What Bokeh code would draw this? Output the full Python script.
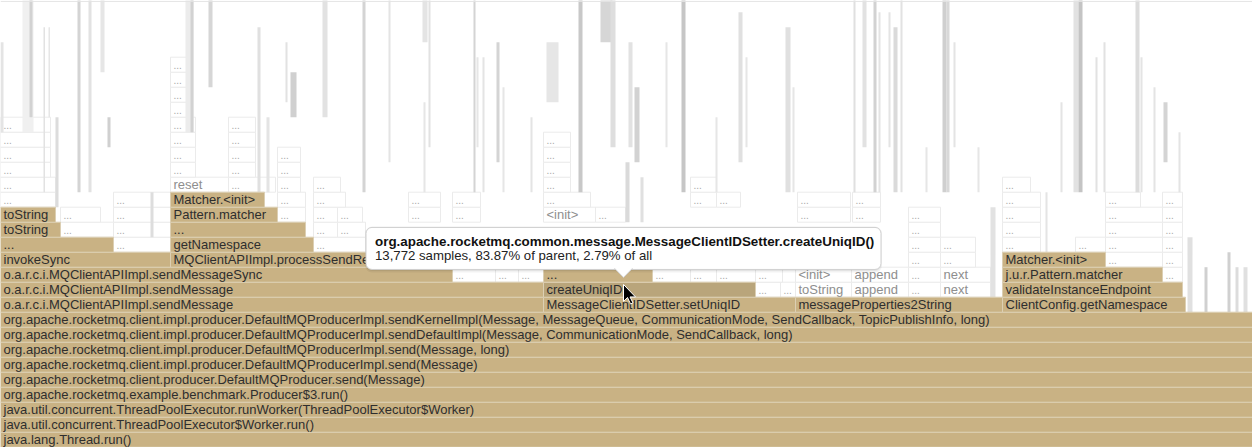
from bokeh.plotting import figure
from bokeh.models import Range1d, Span
from bokeh.core.properties import value
from bokeh.embed import file_html
from bokeh.resources import INLINE

# ---------------- data (x in view units of the zoomed root, depth = stack level) ----------------
hot_depth = [0, 1, 2, 3, 4, 5, 6, 7, 8,
             9, 9, 9, 9,
             10, 10, 10,
             11, 11, 11,
             12, 12, 12,
             13, 13,
             14, 14,
             15, 15,
             16]
hot_start = [0, 0, 0, 0, 0, 0, 0, 0, 0,
             0, 543, 795, 1002,
             0, 543, 1002,
             0, 543, 1002,
             0, 170, 1002,
             0, 170,
             0, 170,
             0, 170,
             170]
hot_end = [1252, 1252, 1252, 1252, 1252, 1252, 1252, 1252, 1252,
           543, 795, 1002, 1185,
           543, 755, 1182,
           452, 652, 1162,
           170, 448, 1105,
           113, 313,
           60, 305,
           55, 277,
           264]
hot_name = [
    "java.lang.Thread.run()",
    "java.util.concurrent.ThreadPoolExecutor$Worker.run()",
    "java.util.concurrent.ThreadPoolExecutor.runWorker(ThreadPoolExecutor$Worker)",
    "org.apache.rocketmq.example.benchmark.Producer$3.run()",
    "org.apache.rocketmq.client.producer.DefaultMQProducer.send(Message)",
    "org.apache.rocketmq.client.impl.producer.DefaultMQProducerImpl.send(Message)",
    "org.apache.rocketmq.client.impl.producer.DefaultMQProducerImpl.send(Message, long)",
    "org.apache.rocketmq.client.impl.producer.DefaultMQProducerImpl.sendDefaultImpl(Message, CommunicationMode, SendCallback, long)",
    "org.apache.rocketmq.client.impl.producer.DefaultMQProducerImpl.sendKernelImpl(Message, MessageQueue, CommunicationMode, SendCallback, TopicPublishInfo, long)",
    "o.a.r.c.i.MQClientAPIImpl.sendMessage", "MessageClientIDSetter.setUniqID",
    "messageProperties2String", "ClientConfig.getNamespace",
    "o.a.r.c.i.MQClientAPIImpl.sendMessage", "createUniqID", "validateInstanceEndpoint",
    "o.a.r.c.i.MQClientAPIImpl.sendMessageSync", "...", "j.u.r.Pattern.matcher",
    "invokeSync", "MQClientAPIImpl.processSendResponse", "Matcher.<init>",
    "...", "getNamespace",
    "toString", "...",
    "toString", "Pattern.matcher",
    "Matcher.<init>",
]
hovered_name = "createUniqID"

# dimmed (non-matching) frames that are wide enough to carry a label
dim_depth = ([10] * 6 + [11] * 12 + [12] * 4 + [13] * 8 + [14] * 8 + [15] * 15 + [16] * 14
             + [17] * 8 + [18] * 5 + [19] * 5 + [20] * 4 + [21] * 3 + [22, 23, 24, 25])
dim_start = [755, 780, 795, 851, 908, 940,
             452, 495, 518, 652, 690, 716, 755, 795, 851, 908, 940, 1162,
             908, 940, 1105, 1162,
             113, 313, 908, 940, 1002, 1075, 1105, 1162,
             60, 113, 313, 337, 908, 1002, 1105, 1162,
             60, 113, 277, 313, 337, 408, 452, 543, 595, 797, 852, 908, 1002, 1105, 1162,
             0, 113, 277, 313, 408, 452, 543, 690, 716, 797, 852, 1002, 1105, 1162,
             0, 170, 228, 277, 313, 543, 690, 1002,
             0, 170, 228, 277, 543,
             0, 170, 228, 277, 543,
             0, 170, 228, 543,
             0, 170, 228,
             170, 170, 170, 170]
dim_end = [780, 795, 851, 908, 940, 990,
           495, 518, 543, 690, 716, 755, 782, 851, 908, 940, 990, 1182,
           940, 975, 1162, 1182,
           170, 365, 940, 975, 1040, 1105, 1162, 1182,
           113, 170, 337, 365, 940, 1040, 1162, 1182,
           100, 170, 305, 337, 362, 440, 480, 595, 625, 850, 880, 940, 1040, 1162, 1182,
           55, 170, 305, 345, 440, 480, 590, 716, 740, 850, 880, 1040, 1140, 1182,
           55, 228, 275, 300, 340, 570, 716, 1030,
           50, 195, 255, 300, 570,
           50, 195, 255, 300, 570,
           50, 195, 255, 570,
           50, 195, 255,
           192, 192, 192, 192]
dim_name = (["...", "...", "toString", "append", "...", "next"]
            + ["...", "...", "...", "...", "...", "...", "...", "<init>", "append", "...", "next", "..."]
            + ["..."] * 4 + ["..."] * 8 + ["..."] * 8
            + ["..."] * 7 + ["<init>"] + ["..."] * 7
            + ["..."] * 14
            + ["...", "reset"] + ["..."] * 6
            + ["..."] * 5 + ["..."] * 5 + ["..."] * 4 + ["..."] * 3 + ["..."] * 4)

# towers of very narrow frames (too thin for text): x, width, lowest depth, top depth, tone
thin_x = [0, 22, 29, 43, 48, 55, 77, 88, 100, 107, 150, 185, 190, 208, 257, 266, 285, 290, 322, 362, 388,
          422, 423, 428, 473, 476, 482, 496, 502, 530, 546, 578, 600, 610, 628, 634, 665, 681, 715, 738,
          745, 785, 792, 853, 862, 873, 878, 888, 893, 900, 925, 942, 946, 953, 977, 990, 1045, 1060,
          1073, 1078, 1095, 1103, 1135, 1140, 1153, 1163, 1178, 1187, 1204, 1227, 1235, 1243, 625, 640]
thin_w = [3, 11, 3, 1.5, 1.5, 3, 3, 3, 4, 3, 3, 8, 3, 4, 3, 3, 2, 6, 5, 3, 2,
          5, 2, 2, 2, 2, 2, 3, 2, 2, 12, 4, 12, 5, 4, 5, 2, 4, 2, 4,
          2, 5, 2, 2, 4, 3, 2, 2, 4, 2, 2, 4, 3, 2, 2, 5, 2, 2,
          5, 4, 2, 2, 4, 2, 2, 4, 2, 5, 3, 3, 3, 4, 4, 3]
thin_lo = [21, 21, 22, 17, 22, 16, 17, 17, 25, 20, 14, 21, 21, 24, 17, 17, 23, 22, 22, 17, 19,
           27, 17, 20, 17, 20, 17, 19, 17, 17, 23, 17, 27, 20, 20, 19, 20, 17, 17, 19,
           20, 17, 17, 17, 20, 17, 17, 20, 17, 17, 17, 17, 17, 20, 17, 10, 13, 17,
           17, 17, 17, 17, 17, 17, 17, 19, 17, 9, 9, 9, 9, 9, 15, 15]
thin_hi = [27, 30, 30, 28, 28, 22, 30, 30, 30, 22, 17, 30, 30, 30, 28, 22, 27, 25, 30, 30, 30,
           30, 23, 30, 30, 26, 26, 27, 24, 22, 27, 30, 30, 30, 27, 24, 27, 30, 22, 29,
           26, 28, 24, 30, 30, 30, 29, 29, 28, 30, 20, 30, 30, 27, 20, 16, 17, 23,
           30, 30, 26, 27, 30, 26, 24, 23, 21, 14, 12, 13, 12, 12, 19, 18]
thin_tone = ["#e4e4e4", "#f0f0f0", "#d2d2d2", "#e2e2e2", "#e6e6e6", "#dcdcdc", "#d4d4d4", "#e2e2e2",
             "#e6e6e6", "#d0d0d0", "#dddddd", "#ececec", "#d2d2d2", "#d6d6d6", "#e0e0e0", "#e4e4e4",
             "#e2e2e2", "#d0d0d0", "#e2e2e2", "#d4d4d4", "#e4e4e4",
             "#e4e4e4", "#e6e6e6", "#e2e2e2", "#d4d4d4", "#e6e6e6", "#e4e4e4", "#d4d4d4", "#e6e6e6",
             "#e4e4e4", "#e6e6e6", "#c8c8c8", "#d6d6d6", "#dedede", "#e2e2e2", "#d2d2d2", "#e6e6e6",
             "#c6c6c6", "#e6e6e6", "#e0e0e0",
             "#e6e6e6", "#e0e0e0", "#e6e6e6", "#e0e0e0", "#e2e2e2", "#d2d2d2", "#e4e4e4", "#e4e4e4",
             "#dadada", "#e2e2e2", "#e6e6e6", "#cfcfcf", "#d8d8d8", "#e4e4e4", "#e6e6e6", "#e2e2e2",
             "#e4e4e4", "#e4e4e4",
             "#e2e2e2", "#c4c4c4", "#e2e2e2", "#e2e2e2", "#dcdcdc", "#e4e4e4", "#e4e4e4", "#d4d4d4",
             "#e4e4e4", "#e0e0e0", "#d0d0d0", "#d0d0d0", "#dcdcdc", "#e0e0e0", "#dadada", "#e0e0e0"]

# hover tooltip content and mouse position
tip_title = "org.apache.rocketmq.common.message.MessageClientIDSetter.createUniqID()"
tip_samples = 13772
tip_parent_pct = 83.87
tip_all_pct = 2.79
mouse_x, mouse_depth = 623, 10.85

# ---------------- figure ----------------
W, H = 1252, 447
ROW = 15.0  # pixels per stack level
p = figure(width=W, height=H, x_range=Range1d(0, 1252), y_range=Range1d(-0.02, 29.78),
           toolbar_location=None, output_backend="svg", min_border=0,
           x_axis_location=None, y_axis_location=None)
p.grid.visible = False
p.outline_line_color = None
p.background_fill_color = "white"
p.border_fill_color = "white"

FONT = value("Liberation Sans")
FS = "13px"

# dimmed frames
p.quad(left=dim_start, right=dim_end, bottom=dim_depth, top=[d + 1 for d in dim_depth],
       fill_color="white", line_color="#ebebeb", line_width=1)
# thin towers
p.quad(left=thin_x, right=[x + w for x, w in zip(thin_x, thin_w)], bottom=thin_lo, top=thin_hi,
       fill_color=thin_tone, line_color=None)

# highlighted frames
hot_fill = ["#b9a57b" if n == hovered_name else "#c9b284" for n in hot_name]
p.quad(left=hot_start, right=hot_end, bottom=hot_depth, top=[d + 1 for d in hot_depth],
       fill_color=hot_fill, line_color="#dccfb3", line_width=1)

p.text(x=[s + 3 for s in hot_start], y=[d + 0.5 for d in hot_depth], text=hot_name,
       text_font=FONT, text_font_size=FS, text_color="#2e2e2e", text_baseline="middle")

named = [i for i, n in enumerate(dim_name) if n != "..."]
dots = [i for i, n in enumerate(dim_name) if n == "..."]
p.text(x=[dim_start[i] + 3 for i in named], y=[dim_depth[i] + 0.5 for i in named],
       text=[dim_name[i] for i in named], text_font=FONT, text_font_size=FS,
       text_color="#8e8e8e", text_baseline="middle")
p.text(x=[dim_start[i] + 3 for i in dots], y=[dim_depth[i] + 0.5 for i in dots],
       text=["..." for i in dots], text_font=FONT, text_font_size="10px",
       text_color="#a8a8a8", text_baseline="middle")

p.add_layout(Span(location=29.72, dimension="width", line_color="#e4e4e4", line_width=1))

# tooltip (anchored to the mouse position)
half_w = 257.5
tb = mouse_depth + 15 / ROW
tt = mouse_depth + 57 / ROW
p.quad(left=[mouse_x - half_w - 1], right=[mouse_x + half_w + 1], bottom=[tb - 3 / ROW], top=[tt + 1 / ROW],
       fill_color="black", fill_alpha=0.05, line_color=None, border_radius=7)
p.quad(left=[mouse_x - half_w], right=[mouse_x + half_w], bottom=[tb - 1.5 / ROW], top=[tt],
       fill_color="black", fill_alpha=0.06, line_color=None, border_radius=6)
p.quad(left=[mouse_x - half_w], right=[mouse_x + half_w], bottom=[tb], top=[tt],
       fill_color="white", line_color="#d0d0d0", line_width=1, border_radius=6)
ax = [mouse_x - 9, mouse_x, mouse_x + 9]
ay = [tb + 1.2 / ROW, mouse_depth + 7 / ROW, tb + 1.2 / ROW]
p.patch(x=ax, y=ay, fill_color="white", line_color=None)
p.line(x=ax, y=ay, line_color="#d0d0d0", line_width=1)

p.text(x=[mouse_x - half_w + 9], y=[mouse_depth + 43 / ROW], text=[tip_title], text_font=FONT,
       text_font_size="13.4px", text_font_style="bold", text_color="#111111", text_baseline="middle")
p.text(x=[mouse_x - half_w + 9], y=[mouse_depth + 29 / ROW],
       text=[f"{tip_samples:,} samples, {tip_parent_pct:.2f}% of parent, {tip_all_pct:.2f}% of all"],
       text_font=FONT, text_font_size="13.2px", text_color="#222222", text_baseline="middle")

# mouse pointer
cur_px = [(0, 0), (0, 17), (4, 13), (7, 19.5), (9.5, 18.5), (6.5, 12.5), (12, 12.5)]
p.patch(x=[mouse_x + dx for dx, dy in cur_px], y=[mouse_depth - dy / ROW for dx, dy in cur_px],
        fill_color="black", line_color="white", line_width=1)

open("out.html", "w").write(file_html(p, INLINE))
